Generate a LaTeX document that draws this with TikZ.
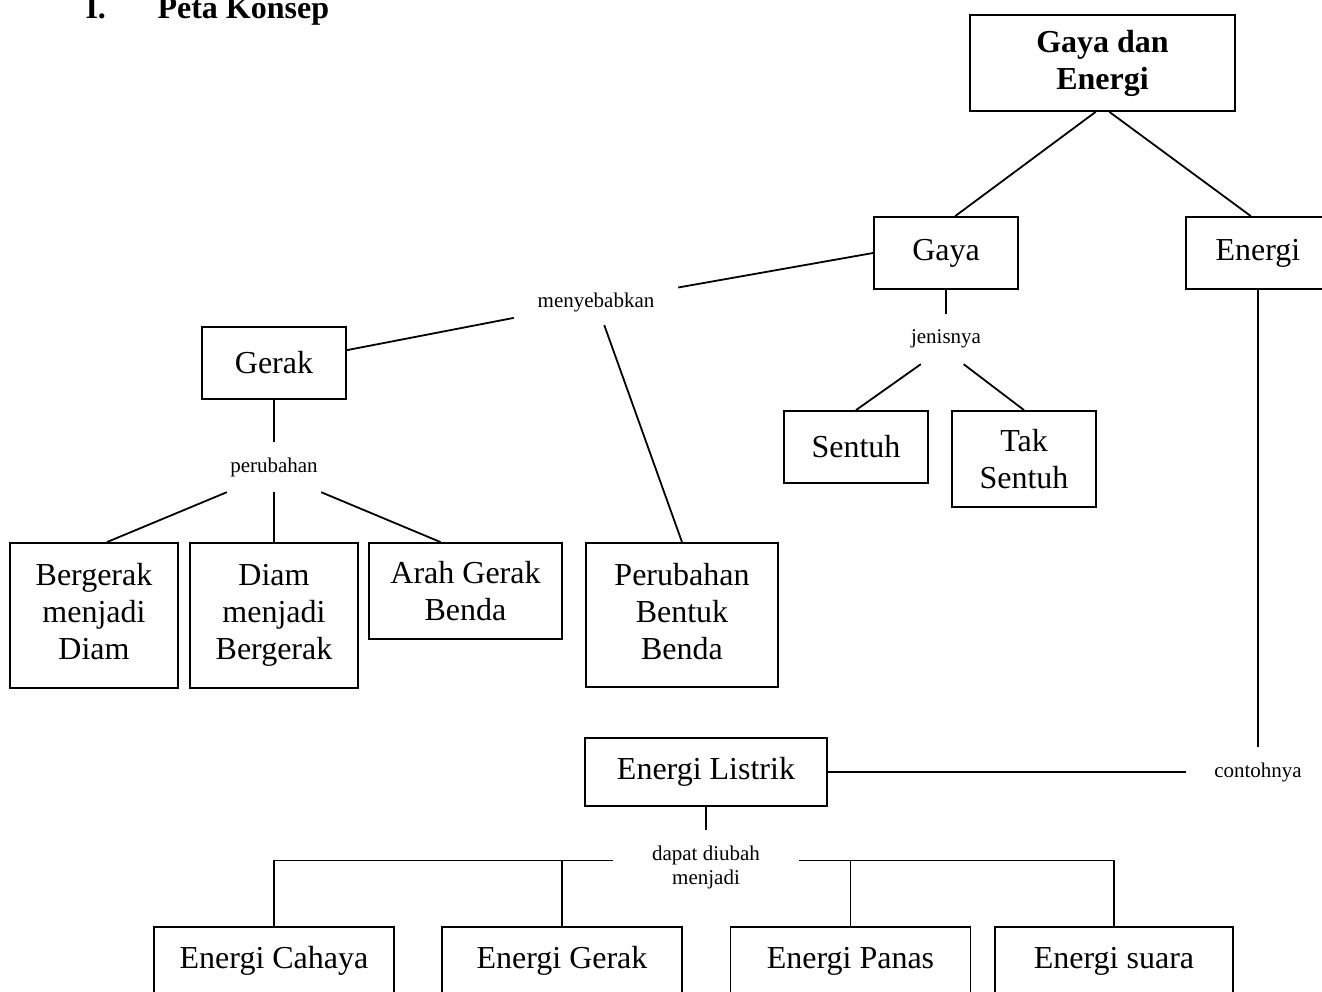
\documentclass[tikz,border=0pt]{standalone}
\usepackage{fontspec}
\setmainfont{Liberation Serif}
\newcommand{\boxtext}{\fontsize{32}{37}\selectfont}
\newcommand{\linktext}{\fontsize{21}{24}\selectfont}
\tikzset{
	box/.style={draw, line width=1.8pt, align=center, inner sep=0pt, font=\boxtext},
	tallbox/.style={box, minimum height=145, text depth=8pt},
	link/.style={inner sep=0pt, align=center, font=\linktext},
	conn/.style={line width=1.8pt}
}
\begin{document}
\begin{tikzpicture}[x=1pt,y=-1pt]
	\clip (0,0) rectangle (1322,992);
	% Title
	\node[anchor=base west, font=\boxtext\bfseries] (nomor) at (82,19) {I.};
	\node[anchor=base west, font=\boxtext\bfseries] (judul) at (154,19) {Peta Konsep};
	
	% Top
	\node[box, font=\boxtext\bfseries, minimum width=265, minimum height=96] (gde) at (1102.5,63) {Gaya dan\\Energi};
	\node[box, minimum width=144, minimum height=72] (gaya) at (946,253) {Gaya};
	\node[box, minimum width=144, minimum height=72] (energi) at (1258,253) {Energi};
	
	% Gaya branch
	\node[link, minimum width=164, minimum height=46] (menyebabkan) at (596,302) {menyebabkan};
	\node[link, minimum width=74, minimum height=50] (jenisnya) at (946,339) {jenisnya};
	\node[box, minimum width=144, minimum height=72] (sentuh) at (856,447) {Sentuh};
	\node[box, minimum width=144, minimum height=96] (taksentuh) at (1024,459) {Tak\\Sentuh};
	\node[box, minimum width=144, minimum height=72] (gerak) at (274,363) {Gerak};
	\node[link, minimum width=94, minimum height=50] (perubahan) at (274,467) {perubahan};
	\node[tallbox, minimum width=168] (bergerak) at (94,615.5) {Bergerak\\menjadi\\Diam};
	\node[tallbox, minimum width=168] (diam) at (274,615.5) {Diam\\menjadi\\Bergerak};
	\node[box, minimum width=193, minimum height=96] (arah) at (465.5,591) {Arah Gerak\\Benda};
	\node[tallbox, minimum width=192, minimum height=144] (bentuk) at (682,615) {Perubahan\\Bentuk\\Benda};
	
	% Energi branch
	\node[link, minimum width=144, minimum height=50] (contohnya) at (1258,772) {contohnya};
	\node[box, minimum width=242, minimum height=68] (listrik) at (706,772) {Energi Listrik};
	\node[link, minimum width=186, minimum height=74] (diubah) at (706,867) {dapat diubah\\menjadi};
	\node[box, minimum width=240, minimum height=68] (cahaya) at (274,961) {Energi Cahaya};
	\node[box, minimum width=240, minimum height=68] (egerak) at (562,961) {Energi Gerak};
	\node[box, minimum width=240, minimum height=68] (panas) at (850.5,961) {Energi Panas};
	\node[box, minimum width=238, minimum height=68] (suara) at (1114,961) {Energi suara};
	
	% Connectors
	\draw[conn] (gde.262) -- (gaya.76);
	\draw[conn] (gde.278) -- (energi.101);
	\draw[conn] (gaya.west) -- (menyebabkan);
	\draw[conn] (menyebabkan) -- (gerak.10);
	\draw[conn] (menyebabkan) -- (bentuk.north);
	\draw[conn] (gaya.south) -- (jenisnya.north);
	\draw[conn] (jenisnya.225) -- (sentuh.north);
	\draw[conn] (jenisnya.305) -- (taksentuh.north);
	\draw[conn] (gerak.south) -- (perubahan.north);
	\draw[conn] (perubahan.south west) -- (bergerak.80);
	\draw[conn] (perubahan.south) -- (diam.north);
	\draw[conn] (perubahan.south east) -- (arah.117);
	\draw[conn] (energi.south) -- (contohnya.north);
	\draw[conn] (contohnya.west) -- (listrik.east);
	\draw[conn] (listrik.south) -- (diubah.north);
	\draw[conn] (diubah.176) -| (cahaya.north);
	\draw[conn] (egerak.north) |- (diubah.176);
	\draw[conn] (diubah.4) -| (suara.north);
	\draw[conn] (panas.north) |- (diubah.4);
\end{tikzpicture}
\end{document}
